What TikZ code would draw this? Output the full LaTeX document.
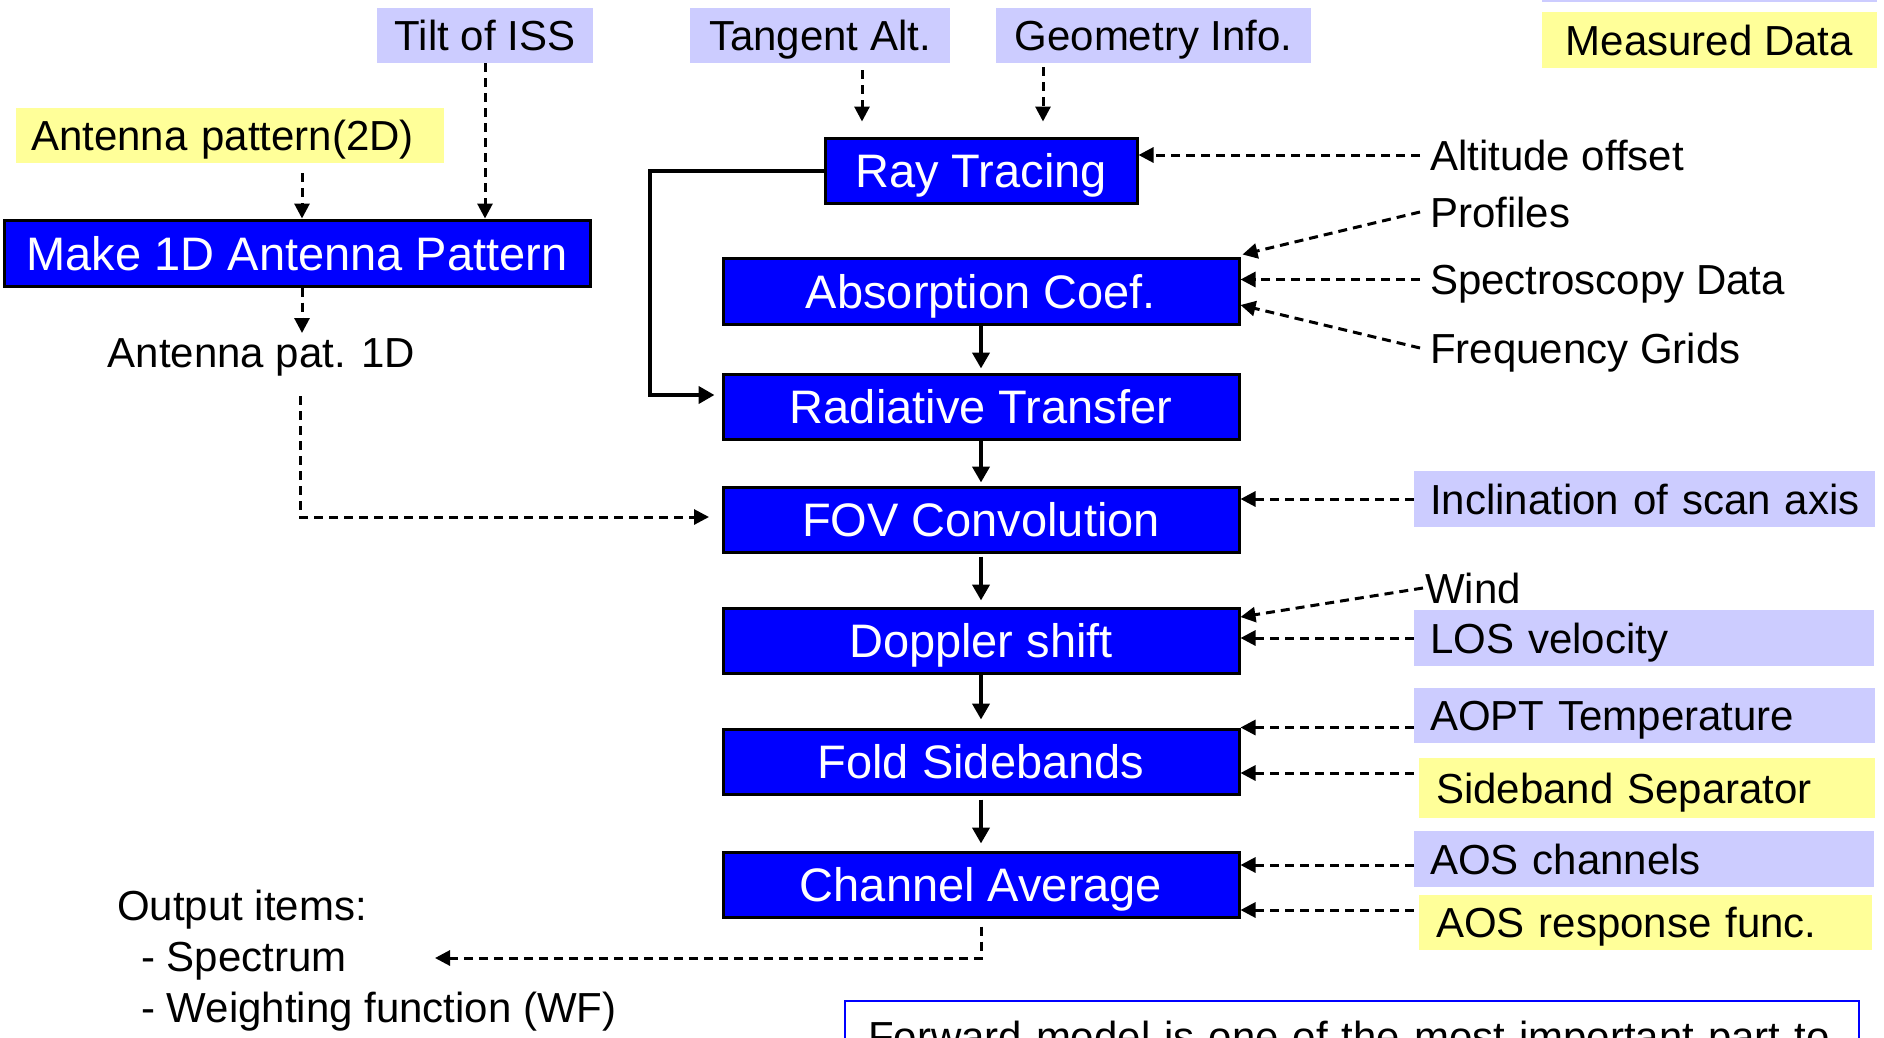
\documentclass[tikz,border=0pt]{standalone}
\usepackage{fontspec}
\setmainfont{Liberation Sans}
\usetikzlibrary{arrows.meta}
\definecolor{procblue}{RGB}{0,0,255}
\definecolor{inlav}{RGB}{204,204,255}
\definecolor{inyel}{RGB}{255,255,153}
\newcommand{\lblfont}{\fontsize{42}{50}\selectfont}
\newcommand{\procfont}{\fontsize{47}{56}\selectfont}

\begin{document}
\begin{tikzpicture}[x=1pt,y=-1pt,
  proc/.style={draw=black, line width=3pt, fill=procblue, text=white, font=\procfont,
    inner sep=0pt, text height=34pt, text depth=0pt, minimum height=65pt, minimum width=516pt},
  lbl/.style={font=\lblfont, inner ysep=0pt, inner xsep=0pt, text height=30pt, text depth=0pt},
  inbox/.style={lbl, fill=inlav, minimum height=55pt},
  measbox/.style={lbl, fill=inyel, minimum height=55pt},
  sidebox/.style={inbox, inner xsep=16pt, align=left},
  sideyel/.style={measbox, inner xsep=17pt, align=left},
  flow/.style={line width=4pt, -{Triangle[length=16pt,width=17pt]}},
  feed/.style={line width=3pt, dash pattern=on 9pt off 6pt, -{Triangle[length=15pt,width=15pt]}},
]
\useasboundingbox (0,0) rectangle (1884,1037);
\clip (0,0) rectangle (1884,1037);
\fill[white] (0,0) rectangle (1884,1037);

% input data boxes along the top
\node[inbox, minimum width=216pt] (tilt) at (485,35.5) {Tilt of ISS};
\node[inbox, minimum width=260pt] (tang) at (820,35.5) {Tangent Alt.};
\node[inbox, minimum width=315pt] (geom) at (1153.5,35.5) {Geometry Info.};
\node[inbox, minimum width=335pt, minimum height=56pt] (keylav) at (1709.5,-26) {};
\node[measbox, minimum width=335pt, minimum height=56pt] (meas) at (1709.5,40) {Measured Data};

% antenna pattern branch
\node[measbox, inner xsep=15pt, text width=398pt, align=left] (ant2d) at (230,135.5) {Antenna pattern(2D)};
\node[proc, minimum width=586pt, minimum height=66pt] (make1d) at (297,253) {Make 1D Antenna Pattern};
\node[lbl] (antpat) at (261.5,352) {Antenna pat. 1D};

% processing chain
\node[proc, minimum width=312pt] (ray) at (981,170.5) {Ray Tracing};
\node[proc, minimum height=66pt] (absorb) at (981,291) {Absorption Coef.};
\node[proc] (rad) at (981,406.5) {Radiative Transfer};
\node[proc] (fov) at (981,519.5) {FOV Convolution};
\node[proc] (dop) at (981,640.5) {Doppler shift};
\node[proc] (fold) at (981,761.5) {Fold Sidebands};
\node[proc] (chan) at (981,884.5) {Channel Average};

% side inputs
\node[lbl, anchor=west, inner xsep=10pt] (alt) at (1420,155) {Altitude offset};
\node[lbl, anchor=west, inner xsep=10pt] (prof) at (1420,212) {Profiles};
\node[lbl, anchor=west, inner xsep=10pt] (spec) at (1420,279.5) {Spectroscopy Data};
\node[lbl, anchor=west, inner xsep=10pt] (freq) at (1420,348) {Frequency Grids};
\node[sidebox, text width=429pt, minimum height=56pt] (incl) at (1644.5,499) {\mbox{Inclination of scan axis}};
\node[lbl, anchor=west, inner xsep=2pt] (wind) at (1423,588) {Wind};
\node[sidebox, text width=428pt, minimum height=56pt] (los) at (1644,638) {LOS velocity};
\node[sidebox, text width=429pt] (aopt) at (1644.5,715.5) {AOPT Temperature};
\node[sideyel, text width=422pt, minimum height=60pt] (sideband) at (1647,788) {Sideband Separator};
\node[sidebox, text width=428pt, minimum height=56pt] (aoschan) at (1644,859) {AOS channels};
\node[sideyel, text width=419pt] (aosresp) at (1645.5,922.5) {AOS response func.};

% outputs
\node[lbl, anchor=west] (outhead) at (117,905) {Output items:};
\node[lbl, anchor=west] (outspec) at (141,956) {- Spectrum};
\node[lbl, anchor=west] (outwf) at (141,1007) {- Weighting function (WF)};

% note box
\node[lbl, draw=procblue, line width=2pt, fill=white, anchor=north west, inner xsep=23pt,
  inner ysep=20pt, text width=968pt, align=left] (note) at (844,1000)
  {Forward model is one of the most important part to};

% connector end points
\coordinate (ant2dOut) at (302,173);
\coordinate (apIn) at (302,333);
\coordinate (apOut) at (300,396);
\coordinate (fovIn) at (709,517);
\coordinate (rtBend) at (650,170.5);
\coordinate (outTip) at (435,958);

% antenna branch
\draw[feed] (tilt.south) -- (tilt.south |- make1d.north);
\draw[feed] (ant2dOut) -- (ant2dOut |- make1d.north);
\draw[feed] (make1d.south -| apIn) -- (apIn);
\draw[feed] (apOut) |- (fovIn);

% into ray tracing
\draw[feed, shorten <=7pt, shorten >=15pt] ([xshift=42pt]tang.south) -- ([xshift=42pt]tang.south |- ray.north);
\draw[feed, shorten <=4pt, shorten >=15pt] ([xshift=-110.5pt]geom.south) -- ([xshift=-110.5pt]geom.south |- ray.north);

% main flow
\draw[flow, shorten >=7pt] (ray.west) -- (rtBend) |- ([yshift=11.5pt]rad.west);
\draw[flow, shorten >=4pt] (absorb.south) -- (rad.north);
\draw[flow, shorten >=3pt] (rad.south) -- (fov.north);
\draw[flow, shorten <=3pt, shorten >=6pt] (fov.south) -- (dop.north);
\draw[flow, shorten >=8pt] (dop.south) -- (fold.north);
\draw[flow, shorten <=4pt, shorten >=7pt] (fold.south) -- (chan.north);

% side inputs
\draw[feed] (alt.west) -- (alt.west -| ray.east);
\draw[feed] (prof.west) -- ([xshift=2pt,yshift=2pt]absorb.north east);
\draw[feed] (spec.west) -- (spec.west -| absorb.east);
\draw[feed] (freq.west) -- ([yshift=-14pt]absorb.east);
\draw[feed] (incl.west) -- (incl.west -| fov.east);
\draw[feed] (wind.west) -- ([yshift=23.5pt]dop.east);
\draw[feed] (los.west) -- (los.west -| dop.east);
\draw[feed] (aopt.west |- fold.north east) -- (fold.north east);
\draw[feed] ([xshift=-5pt,yshift=15pt]sideband.west) -- ([yshift=15pt]sideband.west -| fold.east);
\draw[feed] ([yshift=-6pt]aoschan.west) -- ([yshift=-6pt]aoschan.west -| chan.east);
\draw[feed] ([xshift=-5pt,yshift=12.5pt]aosresp.west) -- ([yshift=12.5pt]aosresp.west -| chan.east);

% result
\draw[feed, shorten <=8pt] (chan.south) |- (outTip);
\end{tikzpicture}
\end{document}
